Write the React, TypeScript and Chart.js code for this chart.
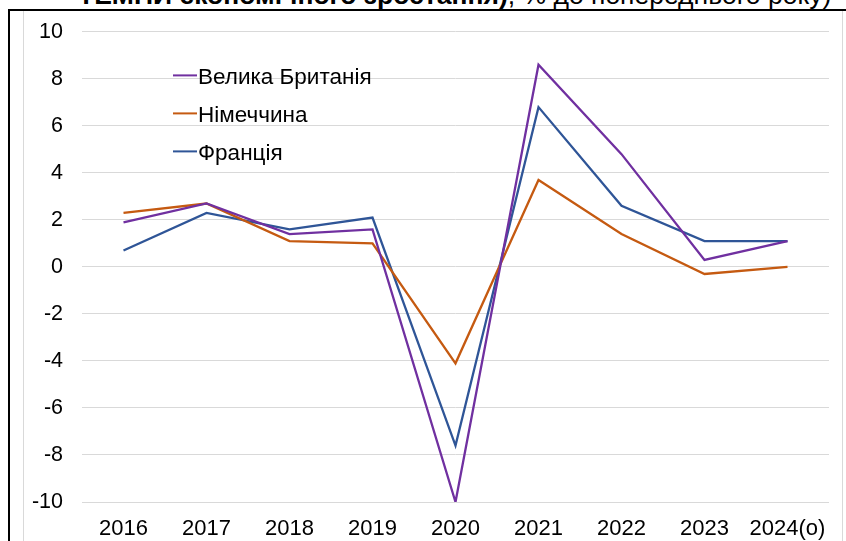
import React, { useEffect, useRef } from "react";
import { Chart, registerables } from "chart.js";

Chart.register(...registerables);

const categories = ["2016", "2017", "2018", "2019", "2020", "2021", "2022", "2023", "2024(о)"];
const ukValues = [1.9, 2.7, 1.4, 1.6, -10.0, 8.6, 4.8, 0.3, 1.1];
const deValues = [2.3, 2.7, 1.1, 1.0, -4.1, 3.7, 1.4, -0.3, 0.0];
const frValues = [0.7, 2.3, 1.6, 2.1, -7.6, 6.8, 2.6, 1.1, 1.1];
const seriesNames = ["Велика Британія", "Німеччина", "Франція"];
const seriesColors = ["#7030A0", "#C55A11", "#2F5597"];

const FONT = "'Liberation Sans', Arial, sans-serif";

const legendPlugin = {
  id: "insideLegend",
  afterDraw(chart: any) {
    const ctx = chart.ctx;
    const area = chart.chartArea;
    ctx.save();
    chart.data.datasets.forEach((ds: any, i: number) => {
      const y = area.top + 43.5 + i * 38;
      const x = area.left + 91;
      ctx.strokeStyle = ds.borderColor;
      ctx.lineWidth = 2;
      ctx.beginPath();
      ctx.moveTo(x, y);
      ctx.lineTo(x + 24, y);
      ctx.stroke();
      ctx.fillStyle = "#000";
      ctx.font = `22.5px ${FONT}`;
      ctx.textBaseline = "middle";
      ctx.textAlign = "left";
      ctx.fillText(ds.label, x + 25, y + 2);
    });
    ctx.restore();
  },
};

export default function App() {
  const ref = useRef<HTMLCanvasElement | null>(null);
  useEffect(() => {
    if (!ref.current) return;
    const values = [ukValues, deValues, frValues];
    const chart = new Chart(ref.current, {
      type: "line",
      data: {
        labels: categories,
        datasets: values.map((v, i) => ({
          label: seriesNames[i],
          data: v,
          borderColor: seriesColors[i],
          backgroundColor: seriesColors[i],
          borderWidth: 2.3,
          pointRadius: 0,
          tension: 0,
          fill: false,
        })),
      },
      options: {
        animation: false,
        responsive: false,
        maintainAspectRatio: false,
        layout: { padding: { top: 7, right: 12, left: 0, bottom: 0 } },
        plugins: { legend: { display: false }, tooltip: { enabled: false }, title: { display: false } },
        scales: {
          x: {
            offset: true,
            grid: { display: false },
            border: { display: false },
            ticks: { color: "#000", font: { size: 22, family: FONT }, padding: 6, maxRotation: 0, autoSkip: false },
            afterFit: (s: any) => { s.height = 39; },
          },
          y: {
            min: -10,
            max: 10,
            ticks: { stepSize: 2, color: "#000", font: { size: 21.5, family: FONT }, padding: 19 },
            grid: { color: "#D9D9D9", lineWidth: 1, drawTicks: false },
            border: { display: false },
            afterFit: (s: any) => { s.width = 58; },
          },
        },
      },
      plugins: [legendPlugin],
    });
    return () => chart.destroy();
  }, []);

  return (
    <div style={{ position: "fixed", left: 0, top: 0, width: 846, height: 541, background: "#fff", overflow: "hidden", fontFamily: FONT }}>
      <div style={{ position: "absolute", left: 78, top: -20, whiteSpace: "nowrap", fontSize: 26.5, color: "#000", lineHeight: "30px" }}>
        <b>ТЕМПИ економічного зростання)</b>, % до попереднього року)
      </div>
      <div style={{ position: "absolute", left: 8, top: 9, width: 900, height: 600, borderLeft: "2px solid #000", borderTop: "2px solid #000" }} />
      <div style={{ position: "absolute", left: 23, top: 11, width: 818, height: 600, borderLeft: "1px solid #D9D9D9", borderRight: "1px solid #D9D9D9" }} />
      <canvas ref={ref} width={817} height={541} style={{ position: "absolute", left: 24, top: 0, width: 817, height: 541 }} />
    </div>
  );
}
